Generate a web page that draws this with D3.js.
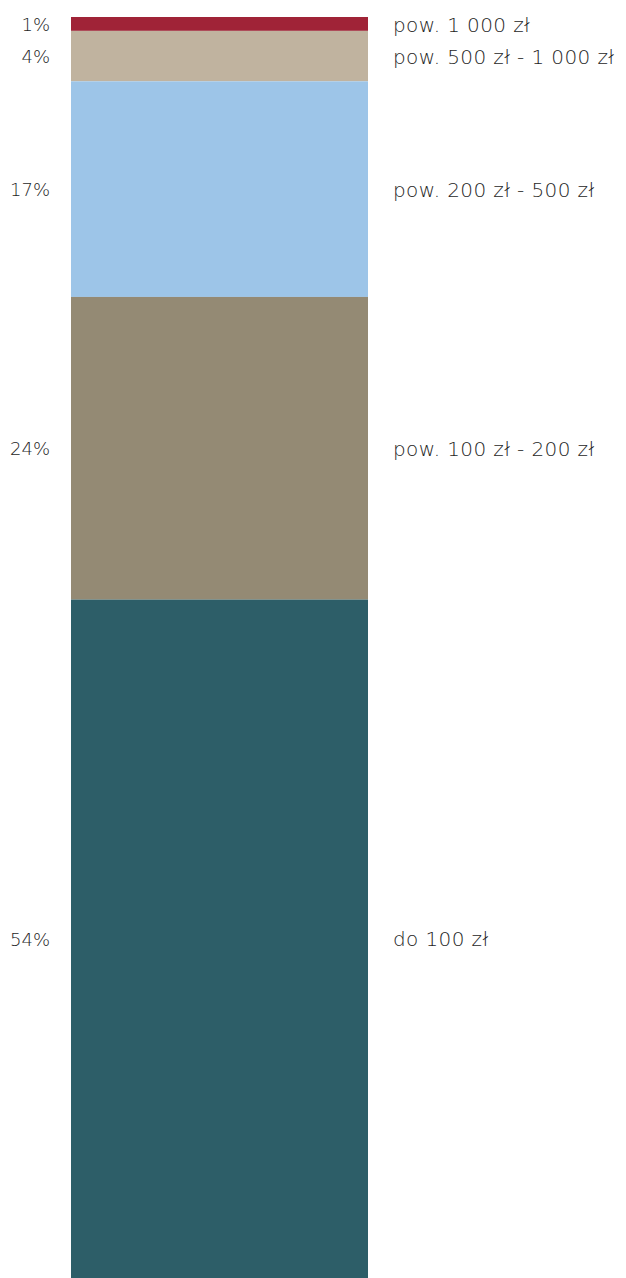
<!DOCTYPE html>
<html lang="pl">
<head>
    <meta charset="utf-8" />
    <script src="https://d3js.org/d3.v7.min.js"></script>
    <style type="text/css">
        body {
            margin: 0;
            background: #fff;
        }

        text {
            font-family: 'DejaVu Sans', sans-serif;
            font-weight: 200;
            fill: #1e1e1e;
        }
    </style>
</head>
<body>
    <div class="svg-box"></div>
    <script type="text/javascript">
        // Segments listed top to bottom
        var categories = ['pow. 1 000 zł', 'pow. 500 zł - 1 000 zł', 'pow. 200 zł - 500 zł', 'pow. 100 zł - 200 zł', 'do 100 zł'];
        var values = [1.1, 4.0, 17.1, 24.0, 53.8];
        var pctLabels = ['1%', '4%', '17%', '24%', '54%'];
        var colors = ['#a02337', '#c0b39f', '#9dc5e8', '#948a74', '#2d5e68'];

        let width = 626;
        let height = 1278;
        let margins = { top: 17, left: 71, right: 258, bottom: 0 };

        var svg = d3.select('.svg-box')
            .append('svg')
            .attr('width', width)
            .attr('height', height)
            .style('display', 'block');

        // cumulative offsets for the stack
        var segs = [];
        var acc = 0;
        for (var i = 0; i < values.length; i++) {
            segs.push({ cat: categories[i], pct: pctLabels[i], y0: acc, y1: acc + values[i], color: colors[i] });
            acc += values[i];
        }

        var y = d3.scaleLinear()
            .domain([0, d3.sum(values)])
            .range([margins.top, height - margins.bottom]);

        var x = d3.scaleBand()
            .domain(['bar'])
            .range([margins.left, width - margins.right])
            .padding(0);

        svg.append('g').selectAll('rect')
            .data(segs)
            .enter()
            .append('rect')
            .attr('x', x('bar'))
            .attr('width', x.bandwidth())
            .attr('y', function (d) { return y(d.y0) })
            .attr('height', function (d) { return y(d.y1) - y(d.y0) })
            .attr('fill', function (d) { return d.color });

        // percent labels on the left
        svg.append('g').selectAll('text')
            .data(segs)
            .enter()
            .append('text')
            .attr('x', 50)
            .attr('y', function (d) { return (y(d.y0) + y(d.y1)) / 2 })
            .attr('dy', '0.38em')
            .attr('text-anchor', 'end')
            .style('font-size', '18px')
            .text(function (d) { return d.pct });

        // category labels on the right
        svg.append('g').selectAll('text')
            .data(segs)
            .enter()
            .append('text')
            .attr('x', 393)
            .attr('y', function (d) { return (y(d.y0) + y(d.y1)) / 2 })
            .attr('dy', '0.38em')
            .style('font-size', '20px')
            .style('letter-spacing', '0.4px')
            .text(function (d) { return d.cat });
    </script>
</body>
</html>
